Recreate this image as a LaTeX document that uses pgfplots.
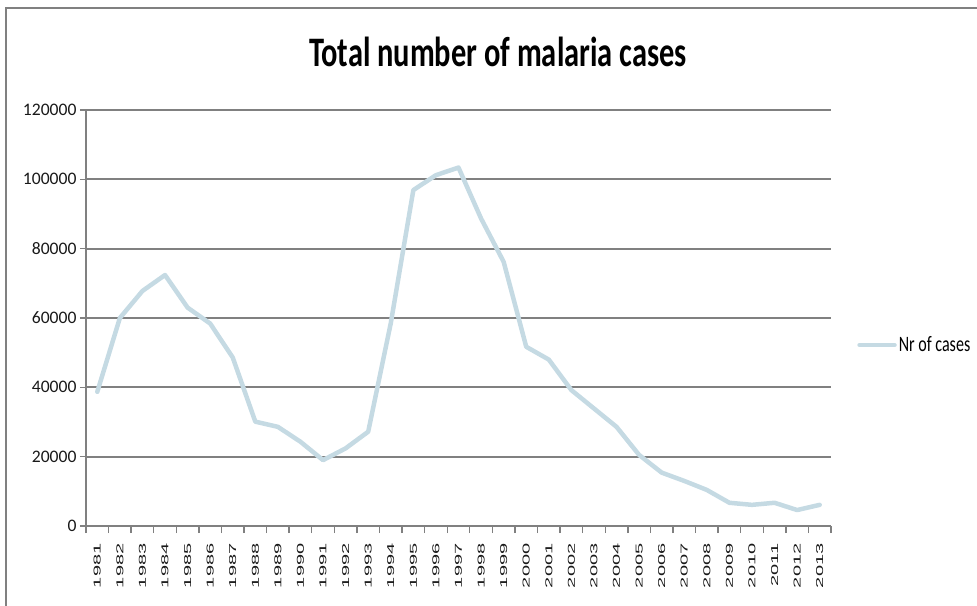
\documentclass[border=0pt]{standalone}
\usepackage{fontspec}
\setmainfont{Carlito}
\newfontfamily\titlefont[FakeStretch=0.725]{Carlito}
\newfontfamily\legfont[FakeStretch=0.73]{Carlito}
\newfontfamily\tickfont{Liberation Sans}
\usepackage{pgfplots}
\pgfplotsset{compat=1.18}
\definecolor{linecol}{RGB}{197,218,227}
\definecolor{gridcol}{RGB}{128,128,128}
\newcommand{\xl}[1]{\scalebox{2.0}[1]{#1}}
\pgfplotstableread{
idx year cases
0 1981 38700
1 1982 60000
2 1983 67800
3 1984 72400
4 1985 63000
5 1986 58400
6 1987 48600
7 1988 30100
8 1989 28600
9 1990 24300
10 1991 19000
11 1992 22400
12 1993 27200
13 1994 58500
14 1995 96900
15 1996 101200
16 1997 103400
17 1998 88700
18 1999 76200
19 2000 51700
20 2001 48000
21 2002 39200
22 2003 33900
23 2004 28600
24 2005 20500
25 2006 15400
26 2007 13000
27 2008 10400
28 2009 6700
29 2010 6100
30 2011 6700
31 2012 4600
32 2013 6100
}\malaria
\begin{document}
\begin{tikzpicture}
\useasboundingbox (0pt,0pt) rectangle (977pt,605pt);
\draw[gridcol, line width=1.5pt] (6pt,-20pt) -- (6pt,597pt) -- (1000pt,597pt);
\node[anchor=base, font=\titlefont\bfseries\fontsize{42}{42}\selectfont] at (498pt,538.3pt) {Total number of malaria cases};
\begin{axis}[
  at={(86pt,79pt)}, anchor=south west,
  scale only axis, width=745pt, height=416pt,
  xmin=-0.5, xmax=32.5, ymin=0, ymax=120000,
  axis x line*=bottom, axis y line*=left,
  axis line style={gridcol, line width=1.4pt, -},
  xtick={0,...,32},
  xticklabels={\xl{1981},\xl{1982},\xl{1983},\xl{1984},\xl{1985},\xl{1986},\xl{1987},\xl{1988},\xl{1989},\xl{1990},\xl{1991},\xl{1992},\xl{1993},\xl{1994},\xl{1995},\xl{1996},\xl{1997},\xl{1998},\xl{1999},\xl{2000},\xl{2001},\xl{2002},\xl{2003},\xl{2004},\xl{2005},\xl{2006},\xl{2007},\xl{2008},\xl{2009},\xl{2010},\xl{2011},\xl{2012},\xl{2013}},
  major x tick style={draw=none},
  minor xtick={-0.5,0.5,...,32.5},
  minor x tick style={gridcol, line width=1.4pt},
  minor tick length=7pt,
  ytick={0,20000,40000,60000,80000,100000,120000},
  yticklabels={0,20000,40000,60000,80000,100000,120000},
  major y tick style={gridcol, line width=1.4pt},
  major tick length=6pt,
  tick align=outside,
  ymajorgrids,
  grid style={gridcol, line width=1.9pt},
  scaled y ticks=false,
  yticklabel style={font=\fontsize{17.6}{17.6}\selectfont, text=black!90, anchor=east, xshift=0pt},
  xticklabel style={rotate=90, anchor=east, font=\tickfont\fontsize{10}{10}\selectfont, text=black!90, xshift=-8pt},
  legend style={draw=none, fill=none, at={(axis description cs:1.035,0.435)}, anchor=west, inner sep=0pt, font=\legfont\fontsize{22}{22}\selectfont, legend cell align=left},
  legend image code/.code={\draw[#1] (0pt,0pt) -- (35pt,0pt);},
  clip=false,
]
\addplot[linecol, line width=4.5pt, line join=round, line cap=round] table[x=idx, y=cases] {\malaria};
\addlegendentry{Nr of cases}
\end{axis}
\end{tikzpicture}
\end{document}
